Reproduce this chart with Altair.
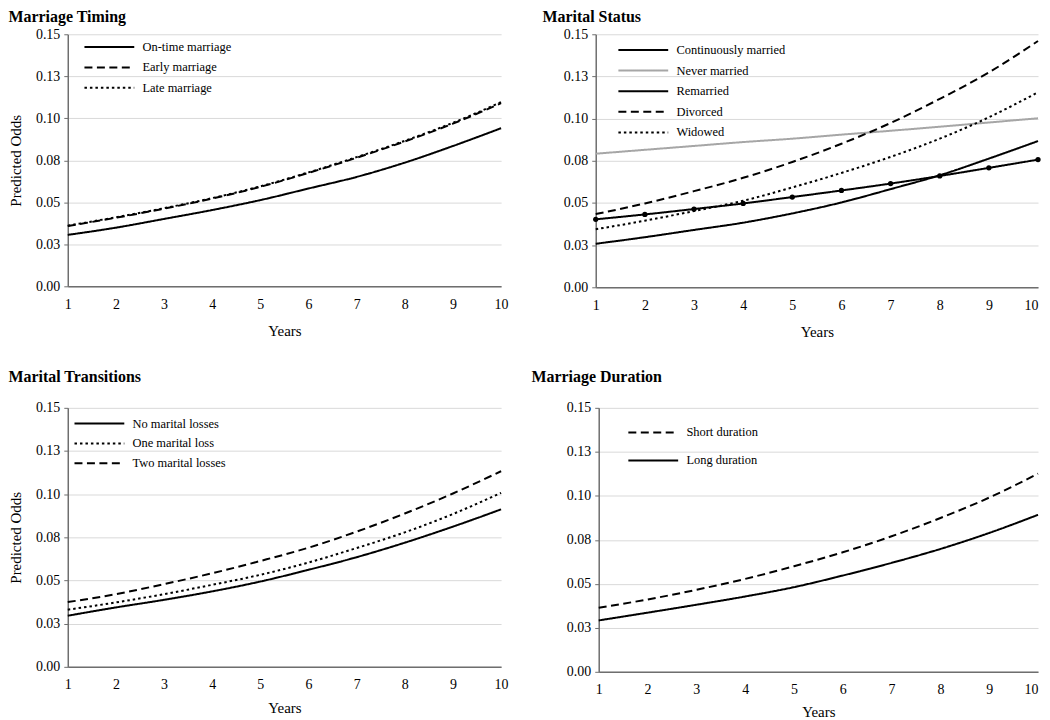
import altair as alt
import pandas as pd

years = list(range(1, 11))
y_ticks = [0, 0.025, 0.05, 0.075, 0.1, 0.125, 0.15]
y_tick_labels = ["0.00", "0.03", "0.05", "0.08", "0.10", "0.13", "0.15"]

# Panel 1: Marriage Timing
timing_names = ["On-time marriage", "Early marriage", "Late marriage"]
timing_ontime = [0.0306, 0.0349, 0.0401, 0.0454, 0.0513, 0.0582, 0.0651, 0.0736, 0.0835, 0.0941]
timing_early = [0.0359, 0.0408, 0.0462, 0.0522, 0.0592, 0.0675, 0.0765, 0.0862, 0.0968, 0.1090]
timing_late = [0.0361, 0.0411, 0.0465, 0.0525, 0.0595, 0.0678, 0.0769, 0.0866, 0.0973, 0.1096]

# Panel 2: Marital Status
status_names = ["Continuously married", "Never married", "Remarried", "Divorced", "Widowed"]
status_cont = [0.0258, 0.0297, 0.0340, 0.0383, 0.0438, 0.0503, 0.0582, 0.0664, 0.0763, 0.0867]
status_never = [0.0792, 0.0815, 0.0838, 0.0861, 0.0881, 0.0905, 0.0928, 0.0952, 0.0977, 0.1002]
status_remar = [0.0403, 0.0432, 0.0464, 0.0497, 0.0535, 0.0574, 0.0615, 0.0660, 0.0708, 0.0757]
status_div = [0.0434, 0.0497, 0.0570, 0.0649, 0.0743, 0.0851, 0.0974, 0.1117, 0.1274, 0.1460]
status_wid = [0.0344, 0.0395, 0.0452, 0.0513, 0.0592, 0.0678, 0.0773, 0.0881, 0.1008, 0.1156]

# Panel 3: Marital Transitions
trans_names = ["No marital losses", "One marital loss", "Two marital losses"]
trans_none = [0.0296, 0.0344, 0.0388, 0.0437, 0.0494, 0.0562, 0.0635, 0.0719, 0.0812, 0.0912]
trans_one = [0.0331, 0.0373, 0.0421, 0.0475, 0.0533, 0.0604, 0.0688, 0.0779, 0.0885, 0.1008]
trans_two = [0.0375, 0.0421, 0.0479, 0.0542, 0.0613, 0.0690, 0.0783, 0.0888, 0.1004, 0.1133]

# Panel 4: Marriage Duration
dur_names = ["Short duration", "Long duration"]
dur_short = [0.0364, 0.0411, 0.0466, 0.0528, 0.0600, 0.0679, 0.0770, 0.0874, 0.0990, 0.1126]
dur_long = [0.0292, 0.0336, 0.0381, 0.0428, 0.0481, 0.0547, 0.0619, 0.0698, 0.0789, 0.0892]

BLACK = "#000000"
GRAY = "#a6a6a6"
SOLID = [1, 0]
DASH = [8, 4.5]
DOT = [2.5, 3]

FONT = "Liberation Serif"
label_expr = "[" + ",".join("'%s'" % s for s in y_tick_labels) + "][round(datum.value*40)]"


def panel(title, names, series, colors, dashes, ytitle, w, h, lx, ly, row_pad, title_dx, title_offset,
          x_title_pad=12, right_panel=False, marker_series=None):
    rows = []
    for n, vals in zip(names, series):
        for yr, v in zip(years, vals):
            rows.append({"Year": yr, "Odds": v, "Series": n})
    df = pd.DataFrame(rows)
    legend = alt.Legend(
        title=None, orient="none", legendX=lx, legendY=ly,
        symbolType="M-5,0H5", symbolSize=100, symbolStrokeWidth=2,
        symbolOffset=18.5, labelOffset=27, rowPadding=row_pad, padding=0,
        labelFont=FONT, labelFontSize=12.5, labelColor="#000000",
    )
    yaxis = alt.Axis(values=y_ticks, labelExpr=label_expr, grid=True, ticks=True, tickSize=4,
                     labelPadding=4, title=ytitle if ytitle else None, titlePadding=12)
    if right_panel:
        x_align = {"condition": {"test": "datum.value == 10", "value": "right"}, "value": "center"}
    else:
        x_align = "center"
    xaxis = alt.Axis(values=years, format="d", grid=False, ticks=False, labelFlush=False,
                     labelAlign=x_align, labelPadding=11, title="Years", titlePadding=x_title_pad)
    base = alt.Chart(df)
    line = base.mark_line(interpolate="monotone", strokeWidth=2).encode(
        x=alt.X("Year:Q", scale=alt.Scale(domain=[1, 10], nice=False, zero=False), axis=xaxis),
        y=alt.Y("Odds:Q", scale=alt.Scale(domain=[0, 0.15], nice=False), axis=yaxis),
        color=alt.Color("Series:N", scale=alt.Scale(domain=names, range=colors), legend=legend),
        strokeDash=alt.StrokeDash("Series:N", scale=alt.Scale(domain=names, range=dashes), legend=legend),
    )
    layers = [line]
    if marker_series:
        pts = base.transform_filter(alt.datum.Series == marker_series).mark_point(
            filled=True, size=28, color="#000000", opacity=1
        ).encode(x="Year:Q", y="Odds:Q")
        layers.append(pts)
    return alt.layer(*layers).properties(
        width=w, height=h,
        title=alt.TitleParams(title, anchor="start", frame="bounds", dx=title_dx,
                              fontSize=16, font=FONT, fontWeight="bold", color="#000000",
                              offset=title_offset),
    )


p1 = panel("Marriage Timing", timing_names, [timing_ontime, timing_early, timing_late],
           [BLACK, BLACK, BLACK], [SOLID, DASH, DOT], "Predicted Odds", 435, 253, 17, 6.5, 7.5, 0, 2)
p2 = panel("Marital Status", status_names, [status_cont, status_never, status_remar, status_div, status_wid],
           [BLACK, GRAY, BLACK, BLACK, BLACK], [SOLID, SOLID, SOLID, DASH, DOT], None, 444, 254, 23, 9.5, 7.7,
           -21, 2, right_panel=True, marker_series="Remarried")
p3 = panel("Marital Transitions", trans_names, [trans_none, trans_one, trans_two],
           [BLACK, BLACK, BLACK], [SOLID, DOT, DASH], "Predicted Odds", 435, 260, 7, 9.5, 7, 0, 16,
           x_title_pad=9)
p4 = panel("Marriage Duration", dur_names, [dur_short, dur_long],
           [BLACK, BLACK], [DASH, SOLID], None, 441, 265, 30, 18.5, 15, -35, 16,
           x_title_pad=8, right_panel=True)

top = alt.hconcat(p1, p2, spacing=34).resolve_scale(color="independent", strokeDash="independent")
bottom = alt.hconcat(p3, p4, spacing=23).resolve_scale(color="independent", strokeDash="independent")

chart = alt.vconcat(top, bottom, spacing=30).resolve_scale(
    color="independent", strokeDash="independent"
).properties(padding=0).configure_view(stroke=None).configure_axis(
    labelFont=FONT, labelFontSize=14, labelColor="#000000",
    titleFont=FONT, titleFontSize=15, titleFontWeight="normal", titleColor="#000000",
    domainColor="#6e6e6e", domainWidth=1.5, tickColor="#6e6e6e",
    gridColor="#d9d9d9", gridWidth=1,
)

chart.save("out.html", embed_options={"renderer": "svg", "actions": False})
